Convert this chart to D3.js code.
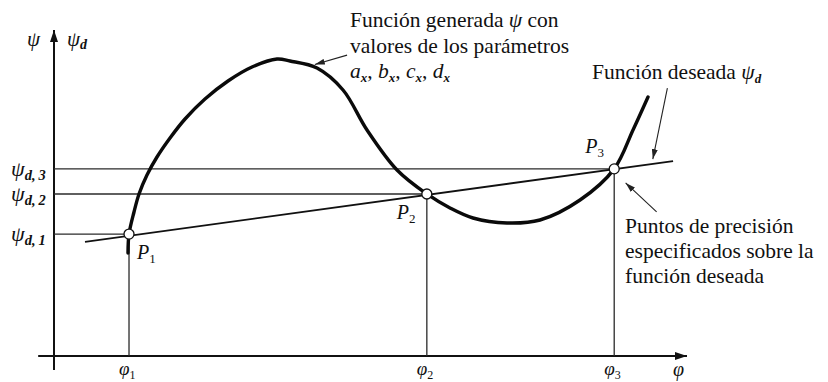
<!DOCTYPE html>
<html lang="es">
<head>
  <meta charset="UTF-8">
  <title>Puntos de precisión</title>
  <script src="https://d3js.org/d3.v7.min.js"></script>
  <style>
    body { margin: 0; background: #fff; }
    svg { display: block; font-family: "Liberation Serif", "DejaVu Serif", serif; }
    .guide { stroke: #2a2a2a; stroke-width: 1.3; fill: none; }
    .axis { stroke: #111; stroke-width: 2; fill: none; }
  </style>
</head>
<body>
  <script>
    // chart units: x 0..100 along φ, y 0..100 along ψ
    const phiNames = ["1", "2", "3"];
    const phiValues = [11.85, 58.9, 88.5];
    const psiValues = [37.4, 49.7, 57.4];

    // desired function ψd (straight line)
    const desiredX = [4.9, 97.8];
    const desiredY = [35.0, 59.8];

    // generated function ψ
    const genX = [11.69, 11.85, 12.64, 13.43, 14.69, 16.27, 18.33, 20.70, 23.85, 27.49, 31.28, 35.23, 37.28, 41.55, 45.66, 49.45, 54.19, 58.9, 62.56, 66.19, 71.56, 76.78, 83.10, 88.5, 91.47, 93.84];
    const genY = [31.60, 37.4, 44.17, 49.69, 55.52, 61.04, 66.87, 72.70, 78.83, 84.36, 88.65, 91.10, 90.49, 88.34, 81.60, 69.33, 57.06, 49.7, 45.4, 42.33, 40.80, 41.72, 47.85, 57.4, 69.33, 79.45];

    const width = 828, height = 382;
    const x = d3.scaleLinear().domain([0, 100]).range([54, 687]);
    const y = d3.scaleLinear().domain([0, 100]).range([356, 30]);

    const svg = d3.select("body").append("svg")
      .attr("width", width)
      .attr("height", height);

    const defs = svg.append("defs");
    defs.append("marker")
      .attr("id", "bigArrow")
      .attr("viewBox", "0 0 12 8")
      .attr("refX", 12).attr("refY", 4)
      .attr("markerWidth", 12).attr("markerHeight", 8)
      .attr("markerUnits", "userSpaceOnUse")
      .attr("orient", "auto")
      .append("path").attr("d", "M0,0 L12,4 L0,8 Z").attr("fill", "#111");
    defs.append("marker")
      .attr("id", "smallArrow")
      .attr("viewBox", "0 0 10 6")
      .attr("refX", 10).attr("refY", 3)
      .attr("markerWidth", 10).attr("markerHeight", 6)
      .attr("markerUnits", "userSpaceOnUse")
      .attr("orient", "auto")
      .append("path").attr("d", "M0,0 L10,3 L0,6 Z").attr("fill", "#222");

    // axes
    svg.append("line").attr("class", "axis")
      .attr("x1", x(0)).attr("x2", x(0))
      .attr("y1", y(-4.3)).attr("y2", y(100))
      .attr("marker-end", "url(#bigArrow)");
    svg.append("line").attr("class", "axis")
      .attr("x1", x(-2.5)).attr("x2", x(100))
      .attr("y1", y(0)).attr("y2", y(0))
      .attr("marker-end", "url(#bigArrow)");

    // guide lines to the precision points
    phiValues.forEach((p, i) => {
      svg.append("line").attr("class", "guide")
        .attr("x1", x(0)).attr("x2", x(p))
        .attr("y1", y(psiValues[i])).attr("y2", y(psiValues[i]));
      svg.append("line").attr("class", "guide")
        .attr("x1", x(p)).attr("x2", x(p))
        .attr("y1", y(0)).attr("y2", y(psiValues[i]));
    });

    // desired function
    svg.append("line")
      .attr("x1", x(desiredX[0])).attr("y1", y(desiredY[0]))
      .attr("x2", x(desiredX[1])).attr("y2", y(desiredY[1]))
      .attr("stroke", "#111").attr("stroke-width", 1.8);

    // generated function
    const genLine = d3.line()
      .x(d => x(d[0]))
      .y(d => y(d[1]))
      .curve(d3.curveCatmullRom.alpha(0.5));
    svg.append("path")
      .attr("d", genLine(d3.zip(genX, genY)))
      .attr("fill", "none")
      .attr("stroke", "#0a0a0a")
      .attr("stroke-width", 3.4)
      .attr("stroke-linecap", "round");

    // precision points
    svg.selectAll(".pt")
      .data(phiValues)
      .join("circle")
      .attr("class", "pt")
      .attr("cx", d => x(d))
      .attr("cy", (d, i) => y(psiValues[i]))
      .attr("r", 5)
      .attr("fill", "#fff")
      .attr("stroke", "#111")
      .attr("stroke-width", 1.3);

    // helper for symbol + subscript labels
    function subLabel(px, py, main, sub, opts) {
      opts = opts || {};
      const t = svg.append("text")
        .attr("x", px).attr("y", py)
        .attr("text-anchor", opts.anchor || "start")
        .attr("fill", "#111");
      t.append("tspan")
        .attr("font-size", opts.size || 21)
        .attr("font-style", "italic")
        .text(main);
      t.append("tspan")
        .attr("font-size", opts.subSize || 14)
        .attr("font-style", opts.subItalic ? "italic" : "normal")
        .attr("font-weight", opts.subBold ? "bold" : "normal")
        .attr("dy", opts.dy || 4)
        .text(sub);
      return t;
    }

    // axis names
    subLabel(x(0) - 27, y(100) + 16, "ψ", "");
    subLabel(x(0) + 13, y(100) + 16, "ψ", "d", { subItalic: true, subBold: true, dy: 3 });
    subLabel(x(100) - 14, y(0) + 20, "φ", "", { size: 20 });

    // ψd,i labels
    psiValues.forEach((v, i) => {
      subLabel(11, y(v) + 7, "ψ", "d,\u2009" + phiNames[i], { size: 22, subSize: 14.5, subItalic: true, subBold: true, dy: 4 });
    });

    // φi labels
    phiValues.forEach((p, i) => {
      subLabel(x(p) - 10, y(0) + 19, "φ", phiNames[i], { size: 19, subSize: 12, dy: 4 });
    });

    // P labels
    subLabel(x(phiValues[0]) + 8, y(psiValues[0]) + 25, "P", "1", { size: 20, subSize: 13 });
    subLabel(x(phiValues[1]) - 30, y(psiValues[1]) + 25, "P", "2", { size: 20, subSize: 13 });
    subLabel(x(phiValues[2]) - 29, y(psiValues[2]) - 16, "P", "3", { size: 20, subSize: 13 });

    // annotation texts
    const fs = 21.5;
    function lines(px, py, rows, gap) {
      rows.forEach((r, i) => {
        const t = svg.append("text").attr("x", px).attr("y", py + i * gap)
          .attr("font-size", fs).attr("fill", "#111");
        r.forEach(part => {
          const s = t.append("tspan").text(part.t);
          if (part.i) s.attr("font-style", "italic");
          if (part.b) s.attr("font-weight", "bold");
          if (part.sub) s.attr("font-size", 13).attr("dy", 4);
          if (part.up) s.attr("dy", -4);
        });
      });
    }

    lines(350, 27, [
      [{ t: "Función generada " }, { t: "ψ", i: true }, { t: " con" }],
      [{ t: "valores de los parámetros" }],
      [{ t: "a", i: true }, { t: "x", i: true, b: true, sub: true }, { t: ", ", up: true },
       { t: "b", i: true }, { t: "x", i: true, b: true, sub: true }, { t: ", ", up: true },
       { t: "c", i: true }, { t: "x", i: true, b: true, sub: true }, { t: ", ", up: true },
       { t: "d", i: true }, { t: "x", i: true, b: true, sub: true }]
    ], 25.5);

    lines(592, 79, [
      [{ t: "Función deseada " }, { t: "ψ", i: true }, { t: "d", i: true, b: true, sub: true }]
    ], 25);

    lines(625, 233, [
      [{ t: "Puntos de precisión" }],
      [{ t: "especificados sobre la" }],
      [{ t: "función  deseada" }]
    ], 25);

    // annotation arrows
    function arrow(x1, y1, x2, y2) {
      svg.append("line")
        .attr("x1", x(x1)).attr("y1", y(y1))
        .attr("x2", x(x2)).attr("y2", y(y2))
        .attr("stroke", "#222").attr("stroke-width", 1.1)
        .attr("marker-end", "url(#smallArrow)");
    }
    arrow(46.3, 92.3, 41.2, 89.4);
    arrow(96.9, 82.2, 94.6, 60.4);
    arrow(95.2, 44.2, 90.3, 53.1);
  </script>
</body>
</html>
